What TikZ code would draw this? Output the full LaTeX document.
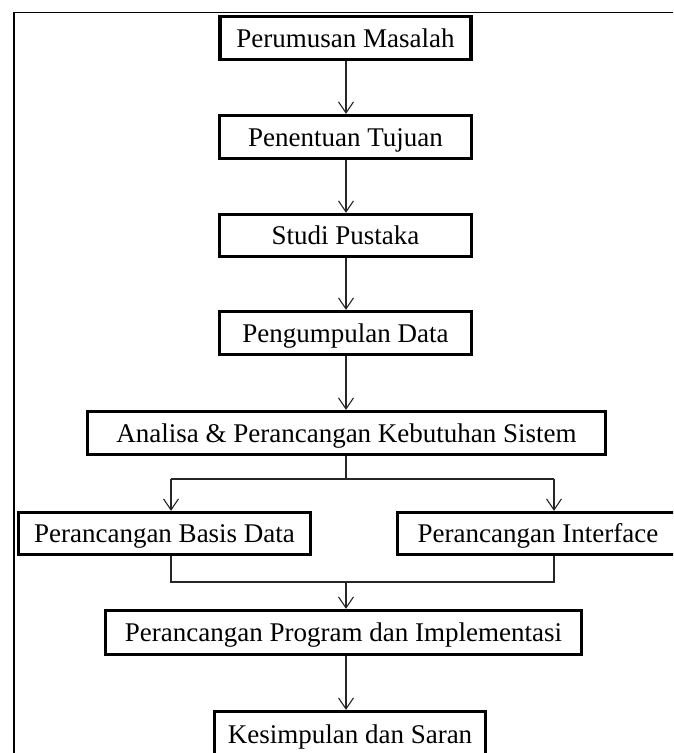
\documentclass[tikz,border=0pt]{standalone}
\usepackage{fontspec}
\setmainfont{Liberation Serif}
\usetikzlibrary{arrows.meta}
\begin{document}
\begin{tikzpicture}[x=1pt,y=-1pt,
  stepbox/.style={draw=black, line width=3.3pt, fill=white, inner sep=0pt,
    font=\fontsize{27}{32}\selectfont, text height=18pt, text depth=0pt, anchor=center},
  conn/.style={line width=1.1pt, draw=black!85},
  arr/.style={conn, -{Straight Barb[length=11pt,width=15pt,line width=1.1pt]}}]
\useasboundingbox (0,0) rectangle (673,753);
\clip (0,0) rectangle (673,753);
\draw[line width=1.6pt] (14,800) -- (14,12.6) -- (700,12.6);
\coordinate (axis) at (346,0);
\node[stepbox, minimum width=251pt, minimum height=43pt] (b1) at (345.5,38) {Perumusan Masalah};
\node[stepbox, minimum width=252pt, minimum height=43pt] (b2) at (345.5,137) {Penentuan Tujuan};
\node[stepbox, minimum width=252pt, minimum height=42pt] (b3) at (345.5,235.5) {Studi Pustaka};
\node[stepbox, minimum width=252pt, minimum height=43pt] (b4) at (345.5,333) {Pengumpulan Data};
\node[stepbox, minimum width=518pt, minimum height=43pt] (ana) at (346.5,433) {Analisa \& Perancangan Kebutuhan Sistem};
\node[stepbox, minimum width=292pt, minimum height=42pt] (basis) at (164.5,533.5) {Perancangan Basis Data};
\node[stepbox, minimum width=281pt, minimum height=42pt] (intf) at (538,533.5) {Perancangan Interface};
\node[stepbox, minimum width=476pt, minimum height=44pt] (prog) at (343.5,632.5) {Perancangan Program dan Implementasi};
\node[stepbox, minimum width=271pt, minimum height=45pt] (kes) at (350,734) {Kesimpulan dan Saran};
\coordinate (jl) at (171,479);
\coordinate (jr) at (554,479);
\coordinate (ml) at (171,582);
\coordinate (mr) at (554,582);
\draw[arr] (b1.south -| axis) -- (b2.north -| axis);
\draw[arr] (b2.south -| axis) -- (b3.north -| axis);
\draw[arr] (b3.south -| axis) -- (b4.north -| axis);
\draw[arr] (b4.south -| axis) -- (ana.north -| axis);
\draw[conn] (ana.south -| axis) -- (jl -| axis);
\draw[conn] (jl) -- (jr);
\draw[arr] (jl) -- (jl |- basis.north);
\draw[arr] (jr) -- (jr |- intf.north);
\draw[conn] (basis.south -| ml) -- (ml) -- (mr) -- (intf.south -| mr);
\draw[arr] (ml -| axis) -- (prog.north -| axis);
\draw[arr] (prog.south -| axis) -- (kes.north -| axis);
\end{tikzpicture}
\end{document}
